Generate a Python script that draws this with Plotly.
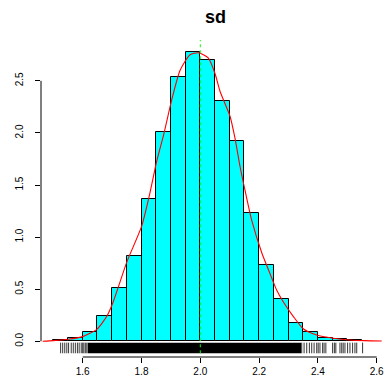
import plotly.graph_objects as go

# ---------------- data ----------------
bin_start = [1.50, 1.55, 1.60, 1.65, 1.70, 1.75, 1.80, 1.85, 1.90, 1.95, 2.00,
             2.05, 2.10, 2.15, 2.20, 2.25, 2.30, 2.35, 2.40, 2.45, 2.50]
bin_density = [0.012, 0.029, 0.087, 0.24, 0.51, 0.82, 1.37, 2.01, 2.54, 2.78, 2.70,
               2.31, 1.92, 1.23, 0.73, 0.41, 0.18, 0.09, 0.032, 0.025, 0.010]
bin_width = 0.05

dens_x = [1.464, 1.50, 1.551, 1.60, 1.648, 1.682, 1.704, 1.75, 1.80, 1.826, 1.851,
          1.875, 1.903, 1.931, 1.965, 1.993, 2.027, 2.05, 2.067, 2.101, 2.118,
          2.135, 2.152, 2.175, 2.209, 2.237, 2.26, 2.282, 2.316, 2.35, 2.396,
          2.452, 2.509, 2.56, 2.617]
dens_y = [0.0, 0.006, 0.02, 0.045, 0.115, 0.24, 0.38, 0.76, 1.10, 1.39, 1.72,
          1.98, 2.32, 2.60, 2.75, 2.77, 2.72, 2.57, 2.40, 2.16, 1.95,
          1.68, 1.45, 1.16, 0.85, 0.65, 0.49, 0.38, 0.24, 0.12, 0.06,
          0.03, 0.013, 0.006, 0.003]

rug_left = [1.525, 1.532, 1.539, 1.546, 1.552, 1.561, 1.568, 1.575, 1.582, 1.588,
            1.595, 1.600, 1.604, 1.609, 1.614]
rug_core = [1.617, 2.343]
rug_right = [2.345, 2.353, 2.362, 2.371, 2.379, 2.387, 2.396, 2.401, 2.407, 2.416,
             2.421, 2.427, 2.450, 2.456, 2.461, 2.475, 2.481, 2.486, 2.492, 2.501,
             2.509, 2.518, 2.526, 2.532, 2.552]

ref_value = 2.0
x_ticks = [1.6, 1.8, 2.0, 2.2, 2.4, 2.6]
y_ticks = [0.0, 0.5, 1.0, 1.5, 2.0, 2.5]
title_text = "sd"

# ---------------- style ----------------
RUG_Y0, RUG_Y1 = -0.115, -0.013
Y_RANGE = [-0.1507, 2.892]
X_RANGE = [1.4582, 2.6452]
FONT = "Liberation Sans, Arial, Helvetica, sans-serif"

fig = go.Figure()

centers = [b + bin_width / 2 for b in bin_start]
fig.add_trace(go.Bar(
    x=centers, y=bin_density, width=bin_width,
    marker=dict(color="#00FFFF", line=dict(color="black", width=1)),
    hoverinfo="skip", showlegend=False,
))

# rug
rx, ry = [], []
for v in rug_left + rug_right:
    rx += [v, v, None]
    ry += [RUG_Y0, RUG_Y1, None]
fig.add_trace(go.Scatter(x=rx, y=ry, mode="lines",
                         line=dict(color="black", width=0.8),
                         hoverinfo="skip", showlegend=False))
fig.add_shape(type="rect", xref="x", yref="y",
              x0=rug_core[0], x1=rug_core[1], y0=RUG_Y0, y1=RUG_Y1,
              fillcolor="black", line=dict(width=0), layer="above")

# density curve
fig.add_trace(go.Scatter(x=dens_x, y=dens_y, mode="lines",
                         line=dict(color="red", width=1.1, shape="spline", smoothing=0.6),
                         hoverinfo="skip", showlegend=False))

# reference line
fig.add_shape(type="line", xref="x", yref="y",
              x0=ref_value, x1=ref_value, y0=RUG_Y0, y1=Y_RANGE[1],
              line=dict(color="rgb(0,255,0)", width=1, dash="dot"), layer="above")

# axis lines (span tick range only, R style)
fig.add_shape(type="line", xref="x", yref="paper",
              x0=min(x_ticks), x1=max(x_ticks), y0=0, y1=0,
              line=dict(color="black", width=1))
fig.add_shape(type="line", xref="paper", yref="y",
              x0=0, x1=0, y0=min(y_ticks), y1=max(y_ticks),
              line=dict(color="black", width=1))

fig.update_layout(
    width=390, height=382,
    margin=dict(l=41, r=0, t=40, b=25),
    paper_bgcolor="white", plot_bgcolor="white",
    bargap=0,
    title=dict(text="<b>%s</b>" % title_text, x=0.5, xref="paper",
               y=0.955, yref="container", xanchor="center", yanchor="middle",
               font=dict(family=FONT, size=18, color="black")),
    font=dict(family=FONT, size=10, color="black"),
    xaxis=dict(range=X_RANGE, tickvals=x_ticks, ticktext=["%.1f" % t for t in x_ticks],
               ticks="outside", ticklen=5, tickwidth=1, tickcolor="black",
               showgrid=False, zeroline=False, showline=False,
               tickfont=dict(family=FONT, size=10, color="black")),
    yaxis=dict(range=Y_RANGE, tickvals=y_ticks, ticktext=["%.1f" % t for t in y_ticks],
               ticks="outside", ticklen=5, tickwidth=1, tickcolor="black",
               tickangle=-90, ticklabelstandoff=8,
               showgrid=False, zeroline=False, showline=False,
               tickfont=dict(family=FONT, size=10, color="black")),
)

fig.write_html("out.html")
